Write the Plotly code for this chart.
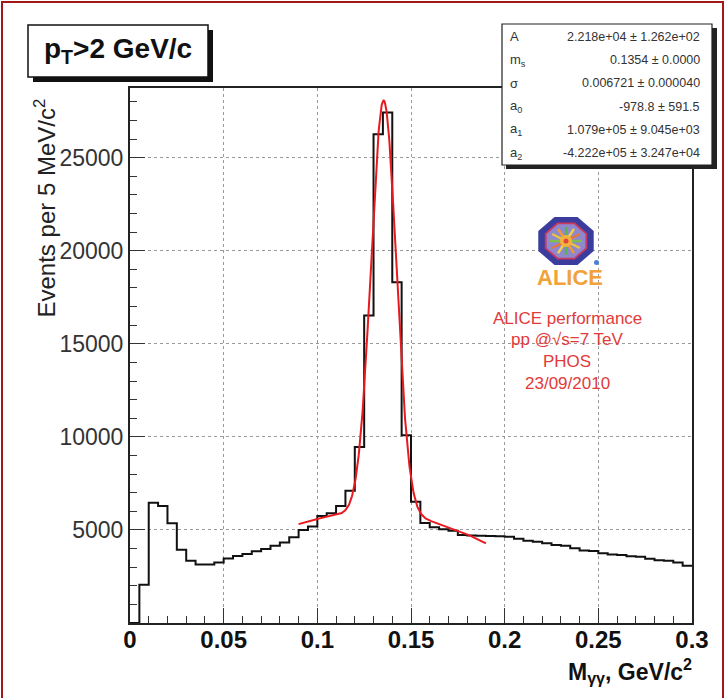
import numpy as np
import plotly.graph_objects as go

# ---- diphoton invariant mass spectrum, 5 MeV bins from 0 to 0.3 GeV/c^2 ----
bin_width = 0.005
counts = [0, 2050, 6460, 6290, 5360, 3930, 3340, 3140, 3140, 3250,
          3460, 3600, 3710, 3850, 3980, 4150, 4330, 4600, 5000, 5180,
          5750, 5900, 6290, 7110, 9460, 16520, 26260, 27420, 18310, 10090,
          6520, 5370, 5150, 5040, 4960, 4730, 4700, 4690, 4680, 4660,
          4640, 4520, 4420, 4370, 4290, 4190, 4150, 4020, 3900, 3870,
          3750, 3680, 3650, 3580, 3560, 3450, 3370, 3350, 3250, 3070]

# ---- fit: Gaussian + 2nd order polynomial ----
fit_names = ["A", "m<sub>s</sub>", "σ", "a<sub>0</sub>", "a<sub>1</sub>", "a<sub>2</sub>"]
fit_values = ["2.218e+04", "0.1354", "0.006721", "-978.8", "1.079e+05", "-4.222e+05"]
fit_errors = ["1.262e+02", "0.0000", "0.000040", "591.5", "9.045e+03", "3.247e+04"]
fit_range = [0.09, 0.19]

# ---- axis ticks ----
x_ticks = [0, 0.05, 0.1, 0.15, 0.2, 0.25, 0.3]
x_ticklabels = ["0", "0.05", "0.1", "0.15", "0.2", "0.25", "0.3"]
y_ticks = [5000, 10000, 15000, 20000, 25000]
y_ticklabels = ["5000", "10000", "15000", "20000", "25000"]

info_lines = ["ALICE performance", "pp @√s=7 TeV", "PHOS", "23/09/2010"]

# histogram outline
n = len(counts)
edges = np.arange(n + 1) * bin_width
hx = list(edges)
hy = list(counts) + [counts[-1]]

# fitted curve
A, m0, sig, a0, a1, a2 = [float(v) for v in fit_values]
fx = np.linspace(fit_range[0], fit_range[1], 500)
fy = A * np.exp(-0.5 * ((fx - m0) / sig) ** 2) + a0 + a1 * fx + a2 * fx ** 2

FONT = "Liberation Sans"

fig = go.Figure()
fig.add_trace(go.Scatter(x=hx, y=hy, mode="lines", line=dict(shape="hv", color="#111111", width=2),
                         hoverinfo="skip"))
fig.add_trace(go.Scatter(x=fx, y=fy, mode="lines", line=dict(color="#e8191f", width=2),
                         hoverinfo="skip"))

# frame geometry in pixels
L, R, T, B = 130, 692, 88, 623
W, H = R - L, B - T


def px(x):
    return (x - L) / W


def py(y):
    return (B - y) / H


shapes = []
annotations = []


def rect(x0, y0, x1, y1, fill, line_color=None, line_width=0, layer="above"):
    shapes.append(dict(type="rect", xref="paper", yref="paper",
                       x0=px(x0), x1=px(x1), y0=py(y1), y1=py(y0),
                       fillcolor=fill, layer=layer,
                       line=dict(color=line_color or fill, width=line_width)))


def label(x, y, text, size, color="#111111", xanchor="center", yanchor="middle", bold=False, angle=0):
    annotations.append(dict(xref="paper", yref="paper", x=px(x), y=py(y), text=text,
                            showarrow=False, xanchor=xanchor, yanchor=yanchor, textangle=angle,
                            font=dict(family=FONT, size=size, color=color,
                                      weight="bold" if bold else "normal")))


# canvas border
shapes.append(dict(type="rect", xref="paper", yref="paper", x0=px(2), x1=px(723), y0=py(701), y1=py(2),
                   line=dict(color="#a01818", width=2), fillcolor="rgba(0,0,0,0)", layer="above"))

# title pave
rect(33, 30, 213, 82, "#111111")
rect(28, 25, 208, 77, "white", "#111111", 1.5)
label(118, 50, "p<sub>T</sub>&gt;2 GeV/c", 28, "#111111", bold=True)

# statistics pave
rect(506, 28, 717, 169, "#222222")
rect(502, 24, 712, 165, "white", "#222222", 1.2)
row_y = 36.7
for name, val, err in zip(fit_names, fit_values, fit_errors):
    label(508, row_y, name, 13, "#333333", xanchor="left")
    label(702, row_y, f"{val} ± {err}", 12.5, "#333333", xanchor="right")
    row_y += 23.3

# ALICE logo
cx, cy = 566, 241


def octagon(rx, ry, color):
    ang = np.deg2rad(22.5 + 45 * np.arange(8))
    pts = [(px(cx + rx * np.cos(a)), py(cy + ry * np.sin(a))) for a in ang]
    path = "M " + " L ".join(f"{a:.5f},{b:.5f}" for a, b in pts) + " Z"
    shapes.append(dict(type="path", xref="paper", yref="paper", path=path,
                       fillcolor=color, line=dict(color=color, width=0), layer="above"))


octagon(30, 26, "#3a3c9e")
octagon(23, 20, "#c9385e")
octagon(21, 18, "#9088cf")
for k, col in enumerate(["#7fbf4a", "#e8c43c", "#f09a32", "#5fae5a", "#f2d04a", "#e8763a"] * 2):
    a = np.deg2rad(k * 30)
    shapes.append(dict(type="line", xref="paper", yref="paper",
                       x0=px(cx), y0=py(cy), x1=px(cx + 16 * np.cos(a)), y1=py(cy + 14 * np.sin(a)),
                       line=dict(color=col, width=2.5), layer="above"))
shapes.append(dict(type="circle", xref="paper", yref="paper", x0=px(cx - 6), x1=px(cx + 6),
                   y0=py(cy + 6), y1=py(cy - 6), fillcolor="#f4b23c", line=dict(width=0), layer="above"))
shapes.append(dict(type="circle", xref="paper", yref="paper", x0=px(cx - 2.5), x1=px(cx + 2.5),
                   y0=py(cy + 2.5), y1=py(cy - 2.5), fillcolor="#e0463a", line=dict(width=0), layer="above"))
shapes.append(dict(type="circle", xref="paper", yref="paper", x0=px(594), x1=px(599),
                   y0=py(265), y1=py(260), fillcolor="#4a7fd0", line=dict(width=0), layer="above"))
label(570, 277, "ALICE", 22, "#f2a23a", bold=True)

# performance label
for i, line in enumerate(info_lines):
    label(567, 318 + 21.7 * i, line, 17, "#e23a3a")

# axis titles
label(44, 97, "Events per 5 MeV/c<sup>2</sup>", 24, "#222222", yanchor="top", angle=-90)
label(694, 671, "M<sub>γγ</sub>, GeV/c<sup>2</sup>", 23, "#111111", xanchor="right", bold=True)

fig.update_layout(
    width=726, height=698,
    margin=dict(l=L, r=726 - R, t=T, b=698 - B),
    paper_bgcolor="white", plot_bgcolor="white",
    showlegend=False,
    shapes=shapes, annotations=annotations,
    xaxis=dict(range=[0, 0.3], tickvals=x_ticks, ticktext=x_ticklabels,
               showline=True, linecolor="#222222", linewidth=2, mirror=True,
               ticks="inside", ticklen=15, tickwidth=1.3, tickcolor="#333333",
               minor=dict(dtick=0.01, tick0=0, ticks="inside", ticklen=7, tickwidth=1.2,
                          tickcolor="#333333", showgrid=False),
               showgrid=True, gridcolor="#9a9a9a", gridwidth=1, griddash="dot",
               zeroline=False, ticklabelstandoff=-6,
               tickfont=dict(family=FONT, size=24, color="#111111", weight="bold")),
    yaxis=dict(range=[0, 28740], tickvals=y_ticks, ticktext=y_ticklabels,
               showline=True, linecolor="#222222", linewidth=2, mirror=True,
               ticks="inside", ticklen=15, tickwidth=1.3, tickcolor="#333333",
               minor=dict(dtick=1000, tick0=0, ticks="inside", ticklen=7, tickwidth=1.2,
                          tickcolor="#333333", showgrid=False),
               showgrid=True, gridcolor="#9a9a9a", gridwidth=1, griddash="dot",
               zeroline=False,
               tickfont=dict(family=FONT, size=23, color="#333333")),
)

fig.write_html("out.html")
